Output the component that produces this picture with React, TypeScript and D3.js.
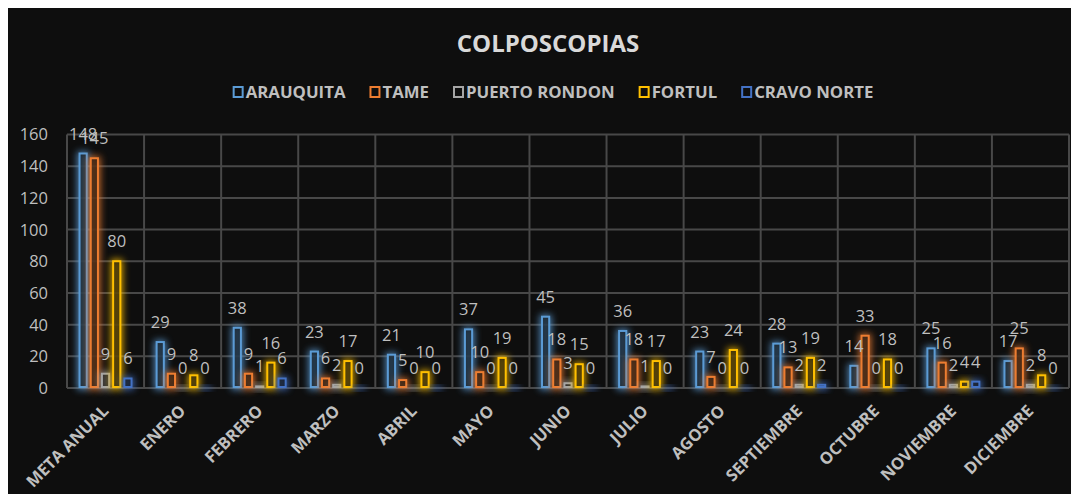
import * as d3 from 'd3';
import { useEffect, useRef } from 'react';

const categories = [
    'META ANUAL', 'ENERO', 'FEBRERO', 'MARZO', 'ABRIL', 'MAYO', 'JUNIO',
    'JULIO', 'AGOSTO', 'SEPTIEMBRE', 'OCTUBRE', 'NOVIEMBRE', 'DICIEMBRE',
];
const seriesNames = ['ARAUQUITA', 'TAME', 'PUERTO RONDON', 'FORTUL', 'CRAVO NORTE'];
const arauquita = [148, 29, 38, 23, 21, 37, 45, 36, 23, 28, 14, 25, 17];
const tame = [145, 9, 9, 6, 5, 10, 18, 18, 7, 13, 33, 16, 25];
const puertoRondon = [9, 0, 1, 2, 0, 0, 3, 1, 0, 2, 0, 2, 2];
const fortul = [80, 8, 16, 17, 10, 19, 15, 17, 24, 19, 18, 4, 8];
const cravoNorte = [6, 0, 6, 0, 0, 0, 0, 0, 0, 2, 0, 4, 0];
const yTicks = [0, 20, 40, 60, 80, 100, 120, 140, 160];

const seriesValues = [arauquita, tame, puertoRondon, fortul, cravoNorte];
const colors = ['#5b9bd5', '#ed7d31', '#a5a5a5', '#ffc000', '#4472c4'];

const W = 1079;
const H = 502;
const FONT = '"Open Sans", "DejaVu Sans", sans-serif';
const TEXT = '#bfbfbf';

const Chart = () => {
    const svgRef = useRef<SVGSVGElement>(null);

    useEffect(() => {
        const svg = d3.select(svgRef.current);
        svg.selectAll('*').remove();

        const m = { left: 67, right: 1069, top: 134.5, bottom: 388 };

        // frame
        svg.append('rect').attr('width', W).attr('height', H).attr('fill', '#ececec');
        svg.append('rect')
            .attr('x', 5).attr('y', 5)
            .attr('width', W - 5).attr('height', H - 7)
            .attr('fill', '#0e0e0e');

        const defs = svg.append('defs');
        const f = defs.append('filter')
            .attr('id', 'glow')
            .attr('x', '-150%').attr('y', '-50%')
            .attr('width', '400%').attr('height', '200%');
        f.append('feGaussianBlur').attr('stdDeviation', 3.5);

        const x = d3.scaleBand<string>()
            .domain(categories)
            .range([m.left, m.right]);
        const groupW = x.bandwidth() * 0.7;
        const x1 = d3.scaleBand<string>()
            .domain(seriesNames)
            .range([-groupW / 2, groupW / 2])
            .paddingInner(0.18);
        const y = d3.scaleLinear().domain([0, 160]).range([m.bottom, m.top]);

        // grid
        const grid = svg.append('g')
            .attr('stroke', '#484848')
            .attr('stroke-width', 2);
        yTicks.forEach((t) => {
            grid.append('line')
                .attr('x1', m.left).attr('x2', m.right)
                .attr('y1', y(t)).attr('y2', y(t));
        });
        categories.forEach((c, i) => {
            const xx = i === 0 ? m.left : (x(c) as number);
            grid.append('line')
                .attr('x1', xx).attr('x2', xx)
                .attr('y1', m.top).attr('y2', m.bottom);
        });
        grid.append('line')
            .attr('x1', m.right).attr('x2', m.right)
            .attr('y1', m.top).attr('y2', m.bottom);

        // y tick labels
        svg.append('g')
            .selectAll('text')
            .data(yTicks)
            .enter()
            .append('text')
            .attr('x', 48)
            .attr('y', (d) => y(d))
            .attr('dy', '0.36em')
            .attr('text-anchor', 'end')
            .attr('font-family', FONT)
            .attr('font-size', 16.5)
            .attr('fill', TEXT)
            .text((d) => d);

        // bars (soft glow behind an outlined column)
        const bw = x1.bandwidth();
        seriesNames.forEach((s, si) => {
            const vals = seriesValues[si];
            const g = svg.append('g');
            const bx = (i: number) =>
                (x(categories[i]) as number) + x.bandwidth() / 2 + (x1(s) as number);

            g.selectAll('rect.glow')
                .data(vals)
                .enter()
                .append('rect')
                .attr('class', 'glow')
                .attr('x', (_, i) => bx(i) - 1.5)
                .attr('y', (d) => y(d) - 2)
                .attr('width', bw + 3)
                .attr('height', (d) => m.bottom - y(d) + 4)
                .attr('fill', colors[si])
                .attr('opacity', 0.8)
                .attr('filter', 'url(#glow)');

            g.selectAll('rect.bar')
                .data(vals)
                .enter()
                .append('rect')
                .attr('class', 'bar')
                .attr('x', (_, i) => bx(i) + 1)
                .attr('y', (d) => y(d))
                .attr('width', bw - 2)
                .attr('height', (d) => Math.max(0, m.bottom - 1 - y(d)))
                .attr('fill', '#0e0e0e')
                .attr('fill-opacity', 0.6)
                .attr('stroke', colors[si])
                .attr('stroke-width', 2);
        });

        // data labels
        seriesNames.forEach((s, si) => {
            const vals = seriesValues[si];
            svg.append('g')
                .selectAll('text')
                .data(vals)
                .enter()
                .append('text')
                .attr('x', (_, i) =>
                    (x(categories[i]) as number) + x.bandwidth() / 2 + (x1(s) as number) + bw / 2)
                .attr('y', (d) => y(d) - 14)
                .attr('text-anchor', 'middle')
                .attr('font-family', FONT)
                .attr('font-size', 16.5)
                .attr('fill', TEXT)
                .text((d) => d);
        });

        // x labels
        svg.append('g')
            .selectAll('text')
            .data(categories)
            .enter()
            .append('text')
            .attr('transform', (d) =>
                `translate(${(x(d) as number) + x.bandwidth() / 2 + 4}, ${m.bottom + 24}) rotate(-45)`)
            .attr('text-anchor', 'end')
            .attr('font-family', FONT)
            .attr('font-weight', 'bold')
            .attr('font-size', 16.5)
            .attr('fill', TEXT)
            .text((d) => d);

        // title
        svg.append('text')
            .attr('x', 548)
            .attr('y', 52)
            .attr('text-anchor', 'middle')
            .attr('font-family', FONT)
            .attr('font-weight', 'bold')
            .attr('font-size', 24)
            .attr('fill', '#d9d9d9')
            .text('COLPOSCOPIAS');

        // legend
        const legend = svg.append('g');
        const items = seriesNames.map((s, si) => {
            const it = legend.append('g');
            it.append('rect')
                .attr('x', 1).attr('y', -11)
                .attr('width', 9).attr('height', 10)
                .attr('fill', 'none')
                .attr('stroke', colors[si])
                .attr('stroke-width', 2);
            const t = it.append('text')
                .attr('x', 13)
                .attr('y', 0)
                .attr('font-family', FONT)
                .attr('font-weight', 'bold')
                .attr('font-size', 16.8)
                .attr('fill', TEXT)
                .text(s);
            const w = 13 + (t.node() as SVGTextElement).getComputedTextLength();
            return { it, w };
        });
        const gap = 24;
        const total = d3.sum(items, (d) => d.w) + gap * (items.length - 1);
        let lx = 553 - total / 2;
        items.forEach(({ it, w }) => {
            it.attr('transform', `translate(${lx}, 98)`);
            lx += w + gap;
        });
    }, []);

    return <svg ref={svgRef} width={W} height={H} style={{ display: 'block' }}></svg>;
};

export default function App() {
    return (
        <div style={{ margin: -8 }}>
            <Chart />
        </div>
    );
}
